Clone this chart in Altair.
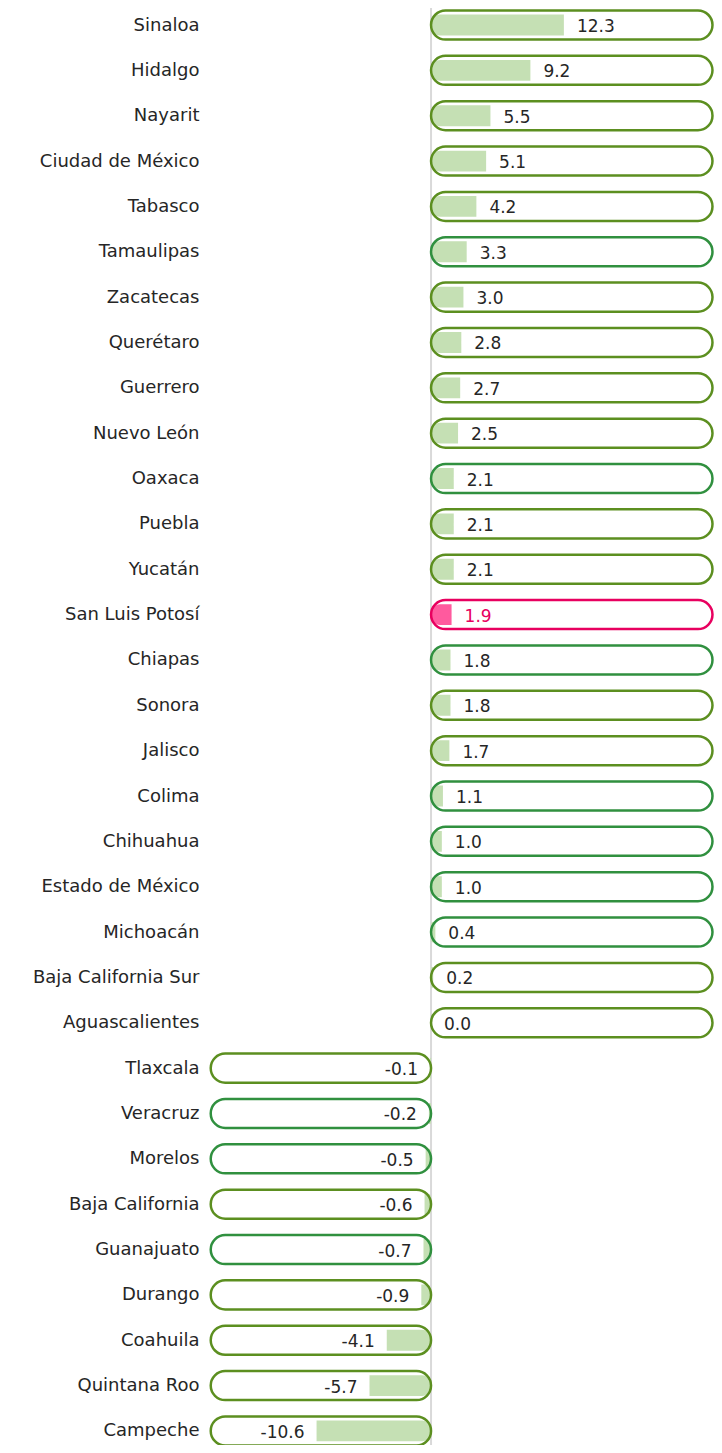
import json
import altair as alt
import pandas as pd

states = ["Sinaloa", "Hidalgo", "Nayarit", "Ciudad de México", "Tabasco", "Tamaulipas",
          "Zacatecas", "Querétaro", "Guerrero", "Nuevo León", "Oaxaca", "Puebla", "Yucatán",
          "San Luis Potosí", "Chiapas", "Sonora", "Jalisco", "Colima", "Chihuahua",
          "Estado de México", "Michoacán", "Baja California Sur", "Aguascalientes",
          "Tlaxcala", "Veracruz", "Morelos", "Baja California", "Guanajuato", "Durango",
          "Coahuila", "Quintana Roo", "Campeche"]
values = [12.3, 9.2, 5.5, 5.1, 4.2, 3.3, 3.0, 2.8, 2.7, 2.5, 2.1, 2.1, 2.1, 1.9, 1.8, 1.8,
          1.7, 1.1, 1.0, 1.0, 0.4, 0.2, 0.0, -0.1, -0.2, -0.5, -0.6, -0.7, -0.9, -4.1,
          -5.7, -10.6]
groups = ["A", "A", "A", "A", "A", "B", "A", "A", "A", "A", "B", "A", "A", "H", "B", "A",
          "A", "B", "B", "B", "B", "A", "A", "A", "B", "B", "A", "B", "A", "A", "A", "A"]

POS_END = 26.06
NEG_END = -20.4

df = pd.DataFrame({"state": states, "value": values, "group": groups,
                   "idx": list(range(len(states))),
                   "label": [f"{v:.1f}" for v in values]})

stroke_scale = alt.Scale(domain=["A", "B", "H"], range=["#5c8f20", "#30903f", "#e8005f"])
fill_scale = alt.Scale(domain=["A", "B", "H"], range=["#c5e0b4", "#c5e0b4", "#ff5a9e"])
text_scale = alt.Scale(domain=["A", "B", "H"], range=["#262626", "#262626", "#e8005f"])

label_expr = json.dumps(states, ensure_ascii=False) + "[datum.value]"

y_scale = alt.Scale(domain=[-0.375, 31.31], reverse=True, nice=False, zero=False)
x_scale = alt.Scale(domain=[-20.93, 26.20], nice=False, zero=False)

base = alt.Chart(df).transform_calculate(
    p0="datum.value >= 0 ? 0 : %f" % NEG_END,
    p1="datum.value >= 0 ? %f : 0" % POS_END,
    py0="datum.idx - 0.32",
    py1="datum.idx + 0.32",
    by0="datum.idx - 0.23",
    by1="datum.idx + 0.23",
)

y_axis = alt.Axis(values=list(range(len(states))), labelExpr=label_expr, domain=False,
                  ticks=False, grid=False, title=None, labelFontSize=18,
                  labelFont="DejaVu Sans", labelColor="#262626", labelPadding=6)

zero_line = alt.Chart(pd.DataFrame({"z": [0]})).mark_rule(color="#d9d9d9", strokeWidth=2).encode(
    x=alt.X("z:Q", scale=x_scale, axis=None),
    y=alt.value(-3), y2=alt.value(1440))

pos_bars = base.transform_filter("datum.value > 0").mark_bar(
    cornerRadiusTopLeft=9, cornerRadiusBottomLeft=9).encode(
    x=alt.X("value:Q", scale=x_scale, axis=None), x2=alt.datum(0),
    y=alt.Y("by0:Q", scale=y_scale, axis=y_axis), y2="by1:Q",
    fill=alt.Fill("group:N", scale=fill_scale, legend=None))

neg_bars = base.transform_filter("datum.value < 0").mark_bar(
    cornerRadiusTopRight=9, cornerRadiusBottomRight=9).encode(
    x=alt.X("value:Q", scale=x_scale, axis=None), x2=alt.datum(0),
    y=alt.Y("by0:Q", scale=y_scale, axis=y_axis), y2="by1:Q",
    fill=alt.Fill("group:N", scale=fill_scale, legend=None))

pills = base.mark_bar(cornerRadius=14.5, fillOpacity=0, fill="white", strokeWidth=2.5).encode(
    x=alt.X("p0:Q", scale=x_scale, axis=None), x2="p1:Q",
    y=alt.Y("py0:Q", scale=y_scale, axis=y_axis), y2="py1:Q",
    stroke=alt.Stroke("group:N", scale=stroke_scale, legend=None))

pos_text = base.transform_filter("datum.value >= 0").mark_text(
    align="left", baseline="middle", dx=13, dy=2, fontSize=17, font="DejaVu Sans").encode(
    x=alt.X("value:Q", scale=x_scale, axis=None),
    y=alt.Y("idx:Q", scale=y_scale, axis=y_axis),
    text="label:N",
    color=alt.Color("group:N", scale=text_scale, legend=None))

neg_text = base.transform_filter("datum.value < 0").mark_text(
    align="right", baseline="middle", dx=-12, dy=2, fontSize=17, font="DejaVu Sans").encode(
    x=alt.X("value:Q", scale=x_scale, axis=None),
    y=alt.Y("idx:Q", scale=y_scale, axis=y_axis),
    text="label:N",
    color=alt.Color("group:N", scale=text_scale, legend=None))

chart = alt.layer(zero_line, pos_bars, neg_bars, pills, pos_text, neg_text).properties(
    width=509, height=1437,
    autosize=alt.AutoSizeParams(type="none"),
    padding={"left": 197, "top": 0, "right": 0, "bottom": 0},
).configure_view(stroke=None)

chart.save("out.html", embed_options={"renderer": "svg", "actions": False})
